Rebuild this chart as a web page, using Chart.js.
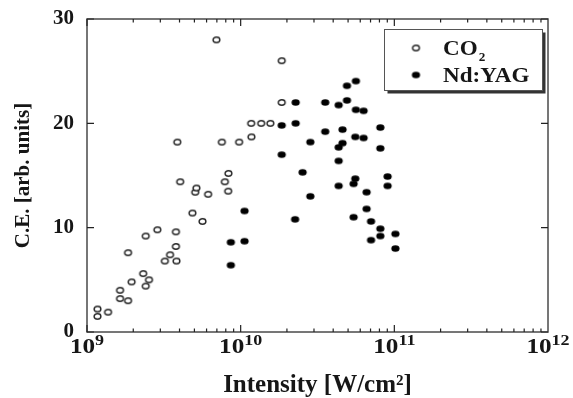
<!DOCTYPE html>
<html>
<head>
<meta charset="utf-8">
<script src="https://cdn.jsdelivr.net/npm/chart.js@4.4.1/dist/chart.umd.min.js"></script>
<style>
  html, body { margin: 0; padding: 0; background: #fff; }
  #wrap { width: 573px; height: 398px; position: relative; }
</style>
</head>
<body>
<div id="wrap"><canvas id="chart"></canvas></div>
<script>
'use strict';

// values (intensity in W/cm2, conversion efficiency)
var co2Intensity = [1.17e9, 1.17e9, 1.37e9, 1.64e9, 1.64e9, 1.85e9, 1.85e9, 1.95e9, 2.32e9, 2.41e9,
  2.41e9, 2.53e9, 2.87e9, 3.21e9, 3.47e9, 3.79e9, 3.79e9, 3.82e9, 3.87e9, 4.04e9,
  4.85e9, 5.06e9, 5.15e9, 5.64e9, 6.14e9, 6.95e9, 7.54e9, 7.89e9, 8.29e9, 8.32e9,
  9.77e9, 1.175e10, 1.17e10, 1.36e10, 1.56e10, 1.85e10, 1.85e10];
var co2CE = [2.2, 1.5, 1.9, 4.0, 3.2, 3.0, 7.6, 4.8, 5.6, 9.2,
  4.4, 5.0, 9.8, 6.8, 7.4, 9.6, 8.2, 6.8, 18.2, 14.4,
  11.4, 13.4, 13.8, 10.6, 13.2, 28.0, 18.2, 14.4, 13.5, 15.2,
  18.2, 18.7, 20.0, 20.0, 20.0, 26.0, 22.0];

var yagIntensity = [8.63e9, 8.63e9, 1.06e10, 1.06e10, 1.85e10, 1.85e10, 2.28e10, 2.28e10, 2.26e10, 2.53e10,
  2.84e10, 2.84e10, 3.55e10, 3.55e10, 4.34e10, 4.34e10, 4.34e10, 4.34e10, 4.6e10, 4.6e10,
  4.92e10, 4.92e10, 5.62e10, 5.62e10, 5.57e10, 5.57e10, 5.43e10, 5.43e10, 6.31e10, 6.31e10,
  6.6e10, 6.6e10, 7.05e10, 7.05e10, 8.11e10, 8.11e10, 8.11e10, 8.11e10, 9.04e10, 9.04e10,
  1.016e11, 1.016e11];
var yagCE = [8.6, 6.4, 11.6, 8.7, 19.8, 17.0, 22.0, 20.0, 10.8, 15.3,
  18.2, 13.0, 22.0, 19.2, 21.75, 17.7, 16.4, 14.0, 19.4, 18.1,
  22.2, 23.6, 24.05, 21.3, 18.7, 14.7, 14.2, 11.0, 21.2, 18.6,
  13.4, 11.8, 10.6, 8.8, 19.6, 17.6, 9.9, 9.2, 14.9, 14.0,
  9.4, 8.0];

var seriesNames = ['CO\u2082', 'Nd:YAG'];
var xDecades = [9, 10, 11, 12];
var yTicks = [0, 10, 20, 30];

var FONT = 'Liberation Serif';
var INK = '#161616';

var toPoints = function (xs, ys) {
  return xs.map(function (x, i) {
    return { x: x, y: ys[i] };
  });
};

// the scan is a bit stretched sideways, so markers are small ellipses
var makeMarker = function (filled) {
  var c = document.createElement('canvas');
  c.width = 11;
  c.height = 9;
  var g = c.getContext('2d');
  g.beginPath();
  if (filled) {
    g.ellipse(5.5, 4.5, 4.1, 3.3, 0, 0, Math.PI * 2);
    g.fillStyle = '#000';
    g.fill();
  } else {
    g.ellipse(5.5, 4.5, 3.4, 2.7, 0, 0, Math.PI * 2);
    g.fillStyle = '#fff';
    g.fill();
    g.lineWidth = 1.4;
    g.strokeStyle = '#262626';
    g.stroke();
  }
  return c;
};
var openMarker = makeMarker(false);
var filledMarker = makeMarker(true);

var stretchText = function (ctx, text, x, y, sx) {
  ctx.save();
  ctx.translate(x, y);
  ctx.scale(sx, 1);
  ctx.fillText(text, 0, 0);
  ctx.restore();
};

var framePlugin = {
  id: 'frame',
  beforeDraw: function (chart) {
    var ctx = chart.ctx;
    ctx.save();
    ctx.fillStyle = '#fff';
    ctx.fillRect(0, 0, chart.width, chart.height);
    ctx.restore();
  },
  afterDraw: function (chart) {
    var ctx = chart.ctx;
    var a = chart.chartArea;
    var xs = chart.scales.x;
    var ys = chart.scales.y;
    ctx.save();

    // box round the plot
    ctx.strokeStyle = '#4a4a4a';
    ctx.lineWidth = 1.5;
    ctx.strokeRect(a.left, a.top, a.right - a.left, a.bottom - a.top);

    // inward ticks, log minors on top and bottom
    ctx.strokeStyle = '#222';
    ctx.lineWidth = 1.2;
    ctx.beginPath();
    for (var d = 9; d < 12; d++) {
      for (var m = 1; m < 10; m++) {
        var px = xs.getPixelForValue(m * Math.pow(10, d));
        var len = m === 1 ? 7 : 3.5;
        ctx.moveTo(px, a.bottom);
        ctx.lineTo(px, a.bottom - len);
        ctx.moveTo(px, a.top);
        ctx.lineTo(px, a.top + len);
      }
    }
    yTicks.forEach(function (v) {
      var py = ys.getPixelForValue(v);
      ctx.moveTo(a.left, py);
      ctx.lineTo(a.left + 7, py);
      ctx.moveTo(a.right, py);
      ctx.lineTo(a.right - 7, py);
    });
    ctx.stroke();

    // x tick labels as 10 with a raised exponent
    ctx.fillStyle = INK;
    ctx.textAlign = 'left';
    ctx.textBaseline = 'alphabetic';
    var sx = 1.2;
    xDecades.forEach(function (d) {
      var px = xs.getPixelForValue(Math.pow(10, d));
      ctx.font = 'bold 21px "' + FONT + '"';
      var w1 = ctx.measureText('10').width * sx;
      ctx.font = 'bold 15px "' + FONT + '"';
      var w2 = ctx.measureText(String(d)).width * sx;
      var x0 = px - (w1 + w2) / 2;
      ctx.font = 'bold 21px "' + FONT + '"';
      stretchText(ctx, '10', x0, 353, sx);
      ctx.font = 'bold 15px "' + FONT + '"';
      stretchText(ctx, String(d), x0 + w1, 345, sx);
    });

    // legend box with a drop shadow
    var bx = 384.5, by = 29.5, bw = 158, bh = 61;
    ctx.fillStyle = '#333';
    ctx.fillRect(bx + 3, by + 3, bw, bh);
    ctx.fillStyle = '#fff';
    ctx.fillRect(bx, by, bw, bh);
    ctx.strokeStyle = '#555';
    ctx.lineWidth = 1;
    ctx.strokeRect(bx, by, bw, bh);

    ctx.drawImage(openMarker, 416 - 5.5, 48 - 4.5);
    ctx.drawImage(filledMarker, 416 - 5.5, 75 - 4.5);
    ctx.fillStyle = INK;
    ctx.font = 'bold 21px "' + FONT + '"';
    var co = 'CO';
    var wco = ctx.measureText(co).width * 1.1;
    stretchText(ctx, co, 443, 55, 1.1);
    ctx.font = 'bold 12px "' + FONT + '"';
    stretchText(ctx, '2', 443 + wco + 1, 61, 1.1);
    ctx.font = 'bold 21px "' + FONT + '"';
    stretchText(ctx, seriesNames[1], 443, 82, 1.1);

    ctx.restore();
  }
};

var ctx = document.getElementById('chart').getContext('2d');
/* eslint-disable-next-line no-unused-vars */
var myChart = new Chart(ctx, {
  type: 'scatter',
  plugins: [framePlugin],
  data: {
    datasets: [
      {
        label: seriesNames[0],
        data: toPoints(co2Intensity, co2CE),
        pointStyle: openMarker,
        pointRadius: 4,
      },
      {
        label: seriesNames[1],
        data: toPoints(yagIntensity, yagCE),
        pointStyle: filledMarker,
        pointRadius: 4,
      },
    ],
  },
  options: {
    responsive: true,
    maintainAspectRatio: false,
    animation: false,
    layout: {
      padding: { left: 0, right: 25, top: 19, bottom: 0 },
    },
    plugins: {
      legend: { display: false },
      tooltip: { enabled: false },
    },
    scales: {
      x: {
        type: 'logarithmic',
        min: 1e9,
        max: 1e12,
        ticks: { display: false },
        grid: { display: false, drawTicks: false },
        border: { display: false },
        title: {
          display: true,
          text: 'Intensity [W/cm\u00b2]',
          color: INK,
          font: { family: FONT, size: 25, weight: 'bold' },
          padding: { top: 0, bottom: -3 },
        },
        afterFit: function (scale) {
          scale.height = 66;
        },
      },
      y: {
        min: 0,
        max: 30,
        ticks: {
          stepSize: 10,
          color: INK,
          padding: 13,
          font: { family: FONT, size: 21, weight: 'bold' },
        },
        grid: { display: false, drawTicks: false },
        border: { display: false },
        title: {
          display: true,
          text: 'C.E. [arb. units]',
          color: INK,
          font: { family: FONT, size: 21, weight: 'bold' },
          padding: { top: 11, bottom: 0 },
        },
        afterFit: function (scale) {
          scale.width = 87;
          // keep the top of the plot where the original has it
          scale.paddingTop = 0;
          scale.paddingBottom = 0;
        },
      },
    },
  },
});
</script>
</body>
</html>
